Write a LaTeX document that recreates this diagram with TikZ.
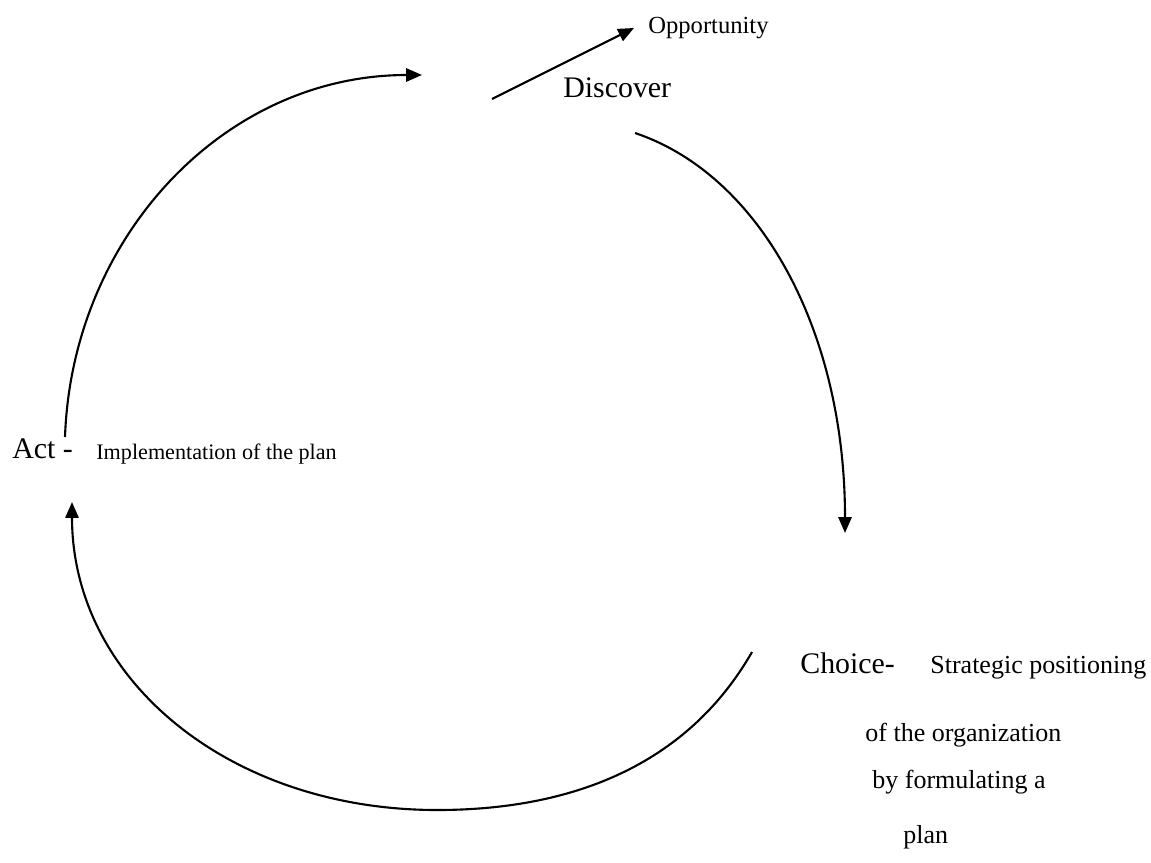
\documentclass[tikz,border=0pt]{standalone}
\usepackage{fontspec}
\setmainfont{Liberation Serif}
\usetikzlibrary{arrows.meta}

\tikzset{
  lbl/.style={inner sep=0pt, anchor=base west},
  headtext/.style={lbl, font=\fontsize{17}{20}\selectfont},
  bodytext/.style={lbl, font=\fontsize{14.8}{17}\selectfont},
  cyc/.style={-{Triangle[length=9pt,width=7.5pt]}, line width=1.2pt}
}

\begin{document}
\begin{tikzpicture}[x=0.02cm, y=-0.02cm]
            \useasboundingbox (0,0) rectangle (1151,862);

            \node[lbl, font=\fontsize{14}{16}\selectfont] (Opp) at (648,33) {Opportunity};
            \node[headtext] (Disc) at (563,97) {Discover};
            \node[headtext] (Act) at (12,458) {Act -};
            \node[lbl, font=\fontsize{12.6}{15}\selectfont] (Impl) at (96,459) {Implementation of the plan};
            \node[headtext] (Choice) at (800,673) {Choice-};
            \node[bodytext] (Strat) at (930,673) {Strategic positioning};
            \node[bodytext] (Org) at (865,741) {of the organization};
            \node[bodytext] (Form) at (872,788) {by formulating a};
            \node[bodytext] (Plan) at (903,843) {plan};

            \coordinate (act_up) at (65,437);
            \coordinate (top_in) at (422,75);
            \coordinate (disc_out) at (492,99);
            \coordinate (opp_in) at (634,28);
            \coordinate (disc_dn) at (635,133);
            \coordinate (choice_in) at (845,533);
            \coordinate (choice_out) at (752,652);
            \coordinate (bottom) at (437,810);
            \coordinate (act_in) at (72,502);

            \draw[cyc] (act_up) .. controls (72,237) and (224,75) .. (top_in);
            \draw[cyc] (disc_out) -- (opp_in);
            \draw[cyc] (disc_dn) .. controls (760,175) and (845,330) .. (choice_in);
            \draw[cyc] (choice_out) .. controls (690,760) and (580,810) .. (bottom)
                       .. controls (230,810) and (72,680) .. (act_in);
          \end{tikzpicture}
\end{document}
